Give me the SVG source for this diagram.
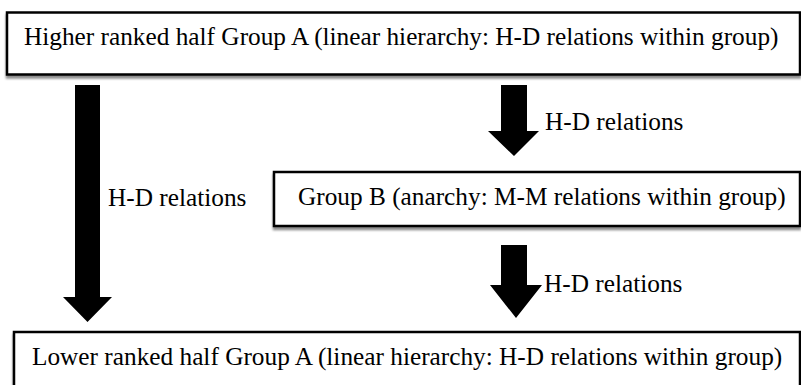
<svg xmlns="http://www.w3.org/2000/svg" width="801" height="385" viewBox="0 0 801 385">
<defs>
<style>
.box{fill:#fff;stroke:#000;stroke-width:2.5;filter:url(#sh)}
.t{font-family:"Liberation Serif","Times New Roman",serif;font-size:25.3px;fill:#000}
.arr{fill:#000}
</style>
<filter id="sh" x="-5%" y="-20%" width="110%" height="150%">
<feDropShadow dx="0" dy="3" stdDeviation="1.2" flood-color="#000" flood-opacity="0.45"/>
</filter>
</defs>
<rect width="801" height="385" fill="#fff"/>
<g id="node-top">
<rect class="box" x="7" y="12.5" width="793" height="62"/>
<text class="t" x="24" y="45">Higher ranked half Group A (linear hierarchy: H-D relations within group)</text>
</g>
<g id="node-groupB">
<rect class="box" x="274" y="172" width="526" height="54"/>
<text class="t" x="298" y="205">Group B (anarchy: M-M relations within group)</text>
</g>
<g id="node-bottom">
<rect class="box" x="14" y="332" width="786" height="60"/>
<text class="t" x="32" y="365">Lower ranked half Group A (linear hierarchy: H-D relations within group)</text>
</g>
<g id="connectors">
<polygon class="arr" points="75,85 100,85 100,297 112,297 87.5,322 63,297 75,297"/>
<polygon class="arr" points="501,85 527,85 527,131 539,131 514,156 488,131 501,131"/>
<polygon class="arr" points="501,245 527,245 527,285 542,285 516,318 490,285 501,285"/>
<text class="t" x="108" y="206">H-D relations</text>
<text class="t" x="545" y="130">H-D relations</text>
<text class="t" x="544" y="292">H-D relations</text>
</g>
</svg>
